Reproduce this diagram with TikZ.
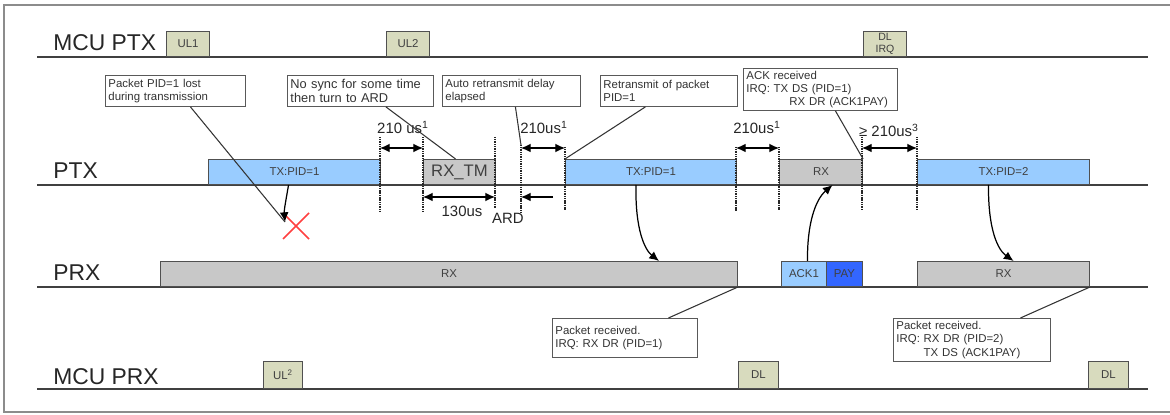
\documentclass[tikz,border=0pt]{standalone}
\usepackage{fontspec}
\setmainfont{Liberation Sans}
\usepackage{xcolor}
\usepackage{tikz}
\usetikzlibrary{calc}
\usetikzlibrary{arrows.meta,positioning}

\definecolor{txblue}{HTML}{99CCFF}
\definecolor{rxgray}{HTML}{C8C8C8}
\definecolor{mcukhaki}{HTML}{D8DBBE}
\definecolor{payblue}{HTML}{3366FF}
\definecolor{boxline}{HTML}{505050}

\begin{document}
\begin{tikzpicture}[x=0.02cm,y=-0.02cm,
	lane/.style={draw=black!75,line width=0.9pt},
	lanelabel/.style={font=\fontsize{13}{15}\selectfont,text=black!85,inner sep=0pt,anchor=base west},
	slot/.style={draw=boxline,line width=0.6pt,anchor=south west,inner sep=0pt,minimum height=0.5cm,font=\fontsize{6.5}{7}\selectfont,text=black!75},
	txslot/.style={slot,fill=txblue},
	rxslot/.style={slot,fill=rxgray},
	mcuslot/.style={slot,fill=mcukhaki,minimum width=0.86cm},
	note/.style={draw=black!65,fill=white,line width=0.5pt,anchor=north west,align=left,inner xsep=0.06cm,inner ysep=0pt,font=\fontsize{6.5}{7.5}\selectfont,text=black!80},
	cutline/.style={line width=1.1pt,dash pattern=on 0.6pt off 0.4pt,black!85},
	dimarr/.style={line width=0.7pt,{Latex[length=5.5pt,width=5pt]}-{Latex[length=5.5pt,width=5pt]}},
	dimlabel/.style={font=\fontsize{8.5}{10}\selectfont,text=black!85,inner sep=0pt},
	pointer/.style={draw=black!80,line width=0.6pt},
	packet/.style={draw=black,line width=0.7pt,-{Latex[length=5.5pt,width=5pt]}}]
	\useasboundingbox (0,0) rectangle (1170,415);
	\draw[black!45,line width=1pt] (4,5) rectangle (1180,412);
	% lanes
	\draw[lane] (37,57) -- (1148,57);
	\draw[lane] (37,185) -- (1148,185);
	\draw[lane] (37,287) -- (1148,287);
	\draw[lane] (37,389) -- (1148,389);
	\node[lanelabel] (lmcuptx) at (53,51) {MCU PTX};
	\node[lanelabel] (lptx) at (53,179) {PTX};
	\node[lanelabel] (lprx) at (53,281) {PRX};
	\node[lanelabel] (lmcuprx) at (53,384) {MCU PRX};
	% MCU PTX
	\node[mcuslot] (ul1) at (166,57) {UL1};
	\node[mcuslot] (ul2) at (386,57) {UL2};
	\node[mcuslot,align=center,font=\fontsize{6}{6.5}\selectfont] (dlirq) at (863,57) {DL\\IRQ};
	% PTX
	\node[txslot,minimum width=3.44cm] (tx1) at (208,185) {TX:PID=1};
	\node[rxslot,minimum width=1.44cm,font=\fontsize{9.5}{11}\selectfont] (rxtm) at (423,185) {RX\_TM};
	\node[txslot,minimum width=3.42cm] (tx2) at (565,185) {TX:PID=1};
	\node[rxslot,minimum width=1.66cm] (rxack) at (779,185) {RX};
	\node[txslot,minimum width=3.44cm] (tx3) at (917,185) {TX:PID=2};
	% PRX
	\node[rxslot,minimum width=11.54cm] (prxrx) at (160,287) {RX};
	\node[txslot,minimum width=0.9cm] (ack1) at (781,287) {ACK1};
	\node[slot,fill=payblue,minimum width=0.72cm] (pay) at (826,287) {PAY};
	\node[rxslot,minimum width=3.44cm] (prxrx2) at (917,287) {RX};
	% MCU PRX
	\node[mcuslot,minimum width=0.78cm,minimum height=0.54cm] (ul3) at (263,389) {UL\textsuperscript{2}};
	\node[mcuslot,minimum width=0.8cm,minimum height=0.54cm] (dl1) at (738,389) {DL};
	\node[mcuslot,minimum width=0.8cm,minimum height=0.54cm] (dl2) at (1088,389) {DL};
	% timing marks
	\coordinate (m1) at (380,137);
	\coordinate (m2) at (423,137);
	\coordinate (m3) at (495,137);
	\coordinate (m4) at (521,145);
	\coordinate (m5) at (565,147);
	\coordinate (m6) at (736,147);
	\coordinate (m7) at (779,147);
	\coordinate (m8) at (862,137);
	\coordinate (m9) at (917,137);
	\draw[cutline] (m1) -- (380,212);
	\draw[cutline] (m2) -- (423,212);
	\draw[cutline] (m3) -- (495,208);
	\draw[cutline] (m4) -- (521,212);
	\draw[cutline] (m5) -- (565,210);
	\draw[cutline] (m6) -- (736,212);
	\draw[cutline] (m7) -- (779,210);
	\draw[cutline] (m8) -- (862,210);
	\draw[cutline] (m9) -- (917,210);
	\coordinate (arow) at (0,148);
	\coordinate (brow) at (0,197);
	\coordinate (ardtail) at (553,197);
	\draw[dimarr] (m1 |- arow) -- (m2 |- arow);
	\draw[dimarr] (m4 |- arow) -- (m5 |- arow);
	\draw[dimarr] (m6 |- arow) -- (m7 |- arow);
	\draw[dimarr] (m8 |- arow) -- (m9 |- arow);
	\draw[dimarr] (m2 |- brow) -- (m3 |- brow);
	\draw[line width=0.7pt,-{Latex[length=5.5pt,width=5pt]}] (ardtail) -- (m4 |- brow);
	\node[dimlabel] (d1) at (403,127) {210 us\textsuperscript{1}};
	\node[dimlabel] (d2) at (544,127) {210us\textsuperscript{1}};
	\node[dimlabel] (d3) at (757,127) {210us\textsuperscript{1}};
	\node[dimlabel] (d4) at (889,130) {≥ 210us\textsuperscript{3}};
	\node[dimlabel] (t130) at (462,211) {130us};
	\node[dimlabel] (ard) at (508,218) {ARD};
	% lost packet
	\coordinate (lost) at (296,226);
	\coordinate (lostpt) at (285,222);
	\draw[red!75,line width=0.9pt] ($(lost)+(-13,-13)$) -- ($(lost)+(13,13)$) ($(lost)+(-13,13)$) -- ($(lost)+(13,-13)$);
	\draw[packet] ([xshift=-0.12cm]tx1.south) .. controls (286,200) and (284,210) .. (lostpt);
	\draw[packet] ([xshift=-0.3cm]tx2.south) .. controls (635,230) and (645,250) .. ([xshift=-1.58cm]prxrx.north east);
	\draw[packet] ([xshift=0.07cm]ack1.north) .. controls (807,225) and (815,200) .. ([xshift=0.23cm]rxack.south);
	\draw[packet] ([xshift=-0.3cm]tx3.south) .. controls (988,230) and (998,250) .. ([xshift=0.2cm]prxrx2.north);
	% notes
	\node[note,text width=2.68cm,minimum height=0.62cm] (c1) at (105,75) {Packet PID=1 lost\\during transmission};
	\node[note,text width=2.8cm,minimum height=0.62cm,font=\fontsize{7.3}{8.4}\selectfont] (c2) at (287,75) {No sync for some time\\then turn to ARD};
	\node[note,text width=2.64cm,minimum height=0.62cm] (c3) at (442,75) {Auto retransmit delay\\elapsed};
	\node[note,text width=2.62cm,minimum height=0.62cm] (c4) at (600,75) {Retransmit of packet\\PID=1};
	\node[note,text width=2.96cm,minimum height=0.84cm] (c5) at (743,68) {ACK received\\IRQ: TX DS (PID=1)\\\hspace*{0.86cm}RX DR (ACK1PAY)};
	\node[note,text width=2.78cm,minimum height=0.78cm] (c6) at (552,318) {Packet received.\\IRQ: RX DR (PID=1)};
	\node[note,text width=3.02cm,minimum height=0.86cm] (c7) at (893,318) {Packet received.\\IRQ: RX DR (PID=2)\\\phantom{IRQ: }TX DS (ACK1PAY)};
	\draw[pointer] ([xshift=0.3cm]c1.south) -- (lostpt);
	\draw[pointer] ([xshift=0.51cm]c2.south) -- ([xshift=-0.08cm]rxtm.north);
	\draw[pointer] ([xshift=0.08cm]c3.south) -- (m4);
	\draw[pointer] ([xshift=-0.47cm]c4.south) -- (tx2.north west);
	\draw[pointer] ([xshift=0.3cm]c5.south) -- (rxack.north east);
	\draw[pointer] ([xshift=0.87cm]c6.north) -- (prxrx.south east);
	\draw[pointer] ([xshift=0.97cm]c7.north) -- (prxrx2.south east);
\end{tikzpicture}
\end{document}
